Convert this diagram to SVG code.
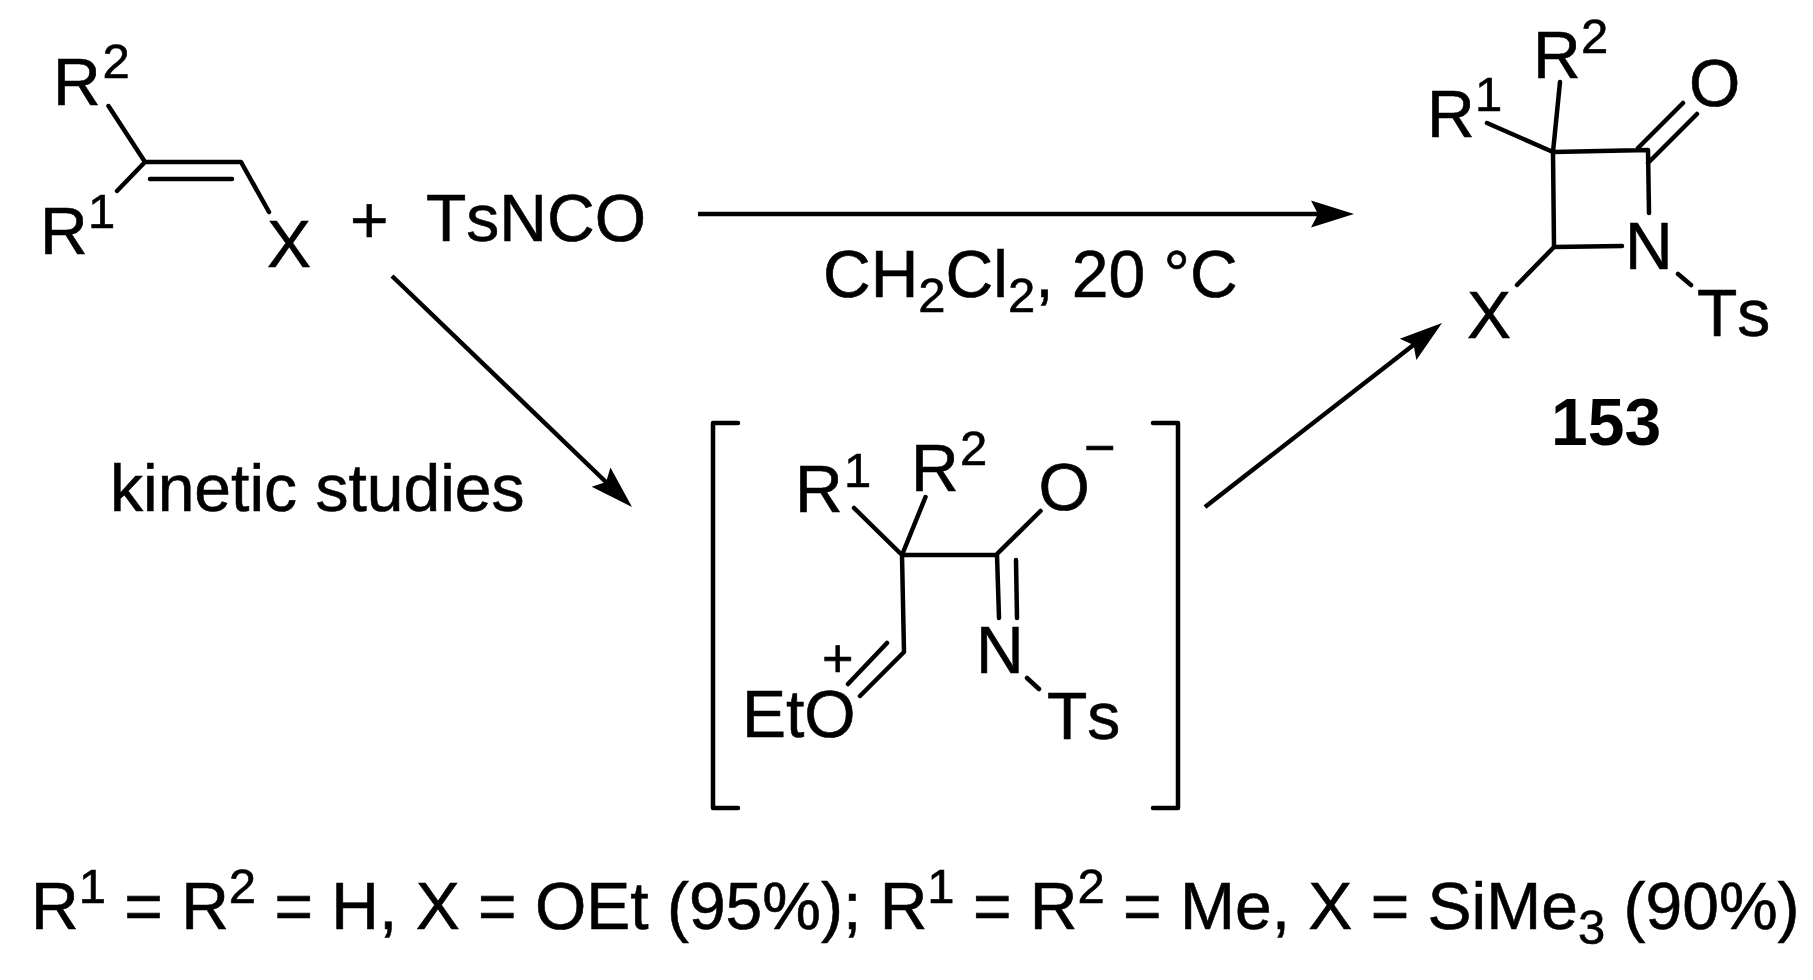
<svg xmlns="http://www.w3.org/2000/svg" width="1813" height="980" viewBox="0 0 1813 980">
<style>
text{font-family:"Liberation Sans",Arial,sans-serif;font-size:66px;fill:#000;stroke:#000;stroke-width:.6;font-kerning:none}
.sup{font-size:49px}
tspan.sup{font-size:49px}
.chg{font-size:54px}
.b{font-weight:bold;stroke-width:0}
.bond{stroke:#000;stroke-width:4.500;fill:none;stroke-linecap:round;stroke-linejoin:round}
.arr{stroke:#000;stroke-width:4.500;fill:none}
</style>
<defs>
<polygon id="head" points="0,0 -43,-13.500 -36,0 -43,13.500" fill="#000"/>
</defs>
<rect width="1813" height="980" fill="#fff"/>
<g id="alkene">
<path class="bond" d="M108.500 106L145 162H241L269 212M145 162L117 191M150 179H232"/>
<text x="53" y="105">R</text><text class="sup" x="102.500" y="78">2</text>
<text x="40" y="254">R</text><text class="sup" x="88" y="228">1</text>
<text x="267" y="267">X</text>
</g>
<g id="plus"><text x="350" y="243">+</text></g>
<g id="tsnco"><text x="426" y="240.500">TsNCO</text></g>
<g id="conditions"><text x="823" y="297">CH<tspan class="sup" dy="15">2</tspan><tspan dy="-15">Cl</tspan><tspan class="sup" dy="15">2</tspan><tspan dy="-15">, 20 °C</tspan></text></g>
<g id="kinetic"><text x="110" y="511">kinetic studies</text></g>
<g id="product">
<path class="bond" d="M1553 152L1648 150L1649 213M1622 246L1554 247L1553 152M1560 82L1553 152M1487 123L1553 152M1638 148L1683 103M1648 163L1697 114M1554 247L1517 285M1678 274L1691 285"/>
<text x="1533" y="78">R</text><text class="sup" x="1581" y="53">2</text>
<text x="1427" y="137">R</text><text class="sup" x="1475" y="111">1</text>
<text x="1689" y="106">O</text>
<text x="1625" y="269">N</text>
<text x="1467" y="338">X</text>
<text x="1697" y="335.500">Ts</text>
</g>
<g id="label153"><text class="b" x="1551" y="445">153</text></g>
<g id="intermediate">
<path class="bond" d="M738 423H713V808H738M1153 423H1178V808H1153"/>
<path class="bond" d="M902 555H997L999 618M1016 560L1017 618M854 508L902 555M925.500 497L902 555M1040.500 511L997 554M902 555L904 652L860 696M887 643L848 684M1027 678L1039 689"/>
<text x="795" y="512">R</text><text class="sup" x="844" y="487">1</text>
<text x="911" y="491">R</text><text class="sup" x="960" y="465">2</text>
<text x="1038.500" y="510">O</text><text class="chg" x="1084" y="466">−</text>
<text class="chg" x="822" y="677">+</text>
<text x="742" y="737">EtO</text>
<text x="976" y="673">N</text>
<text x="1047" y="739">Ts</text>
</g>
<g id="yields"><text x="31" y="929">R<tspan class="sup" dy="-26">1</tspan><tspan dy="26"> = R</tspan><tspan class="sup" dy="-26">2</tspan><tspan dy="26"> = H, X = OEt (95%); R</tspan><tspan class="sup" dy="-26">1</tspan><tspan dy="26"> = R</tspan><tspan class="sup" dy="-26">2</tspan><tspan dy="26"> = Me, X = SiMe</tspan><tspan class="sup" dy="15">3</tspan><tspan dy="-15"> (90%)</tspan></text></g>
<g id="connectors">
<path class="arr" d="M698 214H1322"/><use href="#head" transform="translate(1354 214)"/>
<path class="arr" d="M392 276L607 483"/><use href="#head" transform="translate(632 507) rotate(44)"/>
<path class="arr" d="M1205 507L1416 343"/><use href="#head" transform="translate(1442 323) rotate(-37.900)"/>
</g>
</svg>
